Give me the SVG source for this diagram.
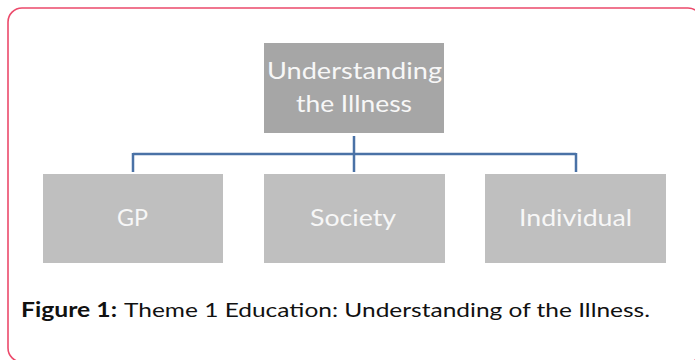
<svg xmlns="http://www.w3.org/2000/svg" width="695" height="360" viewBox="0 0 695 360">
<style>
.frame{fill:#ffffff;stroke:#ec4a6b;stroke-width:1.6}
.top{fill:#a6a6a6}
.sub{fill:#bfbfbf}
.lbl{font-family:Lato,"Open Sans","Liberation Sans",sans-serif;fill:#f7f7f7;text-anchor:start}
.conn{fill:none;stroke:#4a72a6;stroke-width:2.5}
.cap{font-family:Lato,"Open Sans","Liberation Sans",sans-serif;font-size:20px;fill:#111111}
</style>
<rect class="frame" x="8" y="8" width="694" height="354" rx="14"/>
<g id="connectors">
<path class="conn" d="M354 136V172M133 154H576M133 153V172M576 153V172"/>
</g>
<g id="node-understanding">
<rect class="top" x="264" y="43" width="180" height="90"/>
<text class="lbl" x="267" y="79" font-size="24" textLength="175" lengthAdjust="spacingAndGlyphs">Understanding</text>
<text class="lbl" x="296" y="112" font-size="24" textLength="116" lengthAdjust="spacingAndGlyphs">the Illness</text>
</g>
<g id="node-gp">
<rect class="sub" x="43" y="174" width="180" height="89"/>
<text class="lbl" x="117" y="226" font-size="23" textLength="31" lengthAdjust="spacingAndGlyphs">GP</text>
</g>
<g id="node-society">
<rect class="sub" x="264" y="174" width="181" height="89"/>
<text class="lbl" x="310" y="226" font-size="23" textLength="86" lengthAdjust="spacingAndGlyphs">Society</text>
</g>
<g id="node-individual">
<rect class="sub" x="485" y="174" width="181" height="89"/>
<text class="lbl" x="519" y="226" font-size="23" textLength="113" lengthAdjust="spacingAndGlyphs">Individual</text>
</g>
<text class="cap" x="21" y="317" font-weight="bold" textLength="96" lengthAdjust="spacingAndGlyphs">Figure 1:</text>
<text class="cap" x="124" y="317" textLength="526" lengthAdjust="spacingAndGlyphs">Theme 1 Education: Understanding of the Illness.</text>
</svg>
